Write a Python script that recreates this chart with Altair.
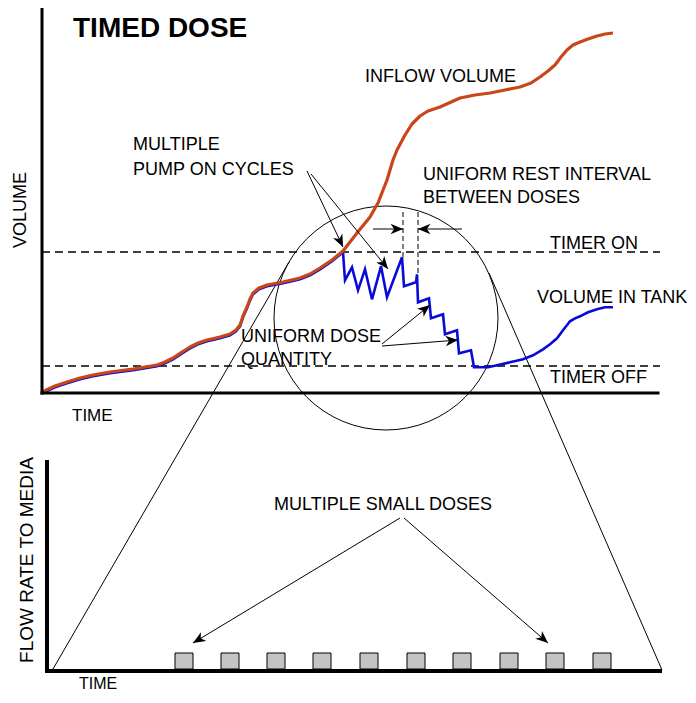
import altair as alt
import numpy as np
import pandas as pd

# Canvas in reference-picture pixel units (page margin 8px)
W, H = 680, 687
X_DOMAIN = [8, 688]
Y_DOMAIN = [8, 695]

# Inflow volume curve (x = time, y = volume, picture units)
inflow_x = [42, 55, 67, 80, 93, 110, 133, 157, 165, 173, 182, 190, 198, 207, 220, 230,
            236, 240, 243, 247, 250, 253, 259, 267, 283, 300, 310, 320, 332, 343, 357,
            370, 378, 387, 393, 397, 405, 412, 420, 428, 440, 460, 475, 490, 505, 520,
            531, 540, 548, 555, 561, 567, 573, 580, 588, 597, 605, 613]
inflow_y = [392, 386, 382, 378, 375, 372, 369, 365, 362, 358, 352, 347, 343, 340, 337, 334,
            330, 325, 316, 307, 299, 293, 288, 285, 282, 278, 274, 268, 260, 251, 233,
            217, 203, 180, 160, 150, 135, 124, 116, 111, 107, 98, 95, 93, 90, 87,
            83, 77, 71, 65, 57, 50, 45, 42, 39, 36, 34, 33]

# Volume in tank after the timer-on level is reached
tank_x = [343, 345, 352, 358, 365, 372, 381, 387, 402, 404, 416, 417, 418, 429, 431, 443,
          445, 457, 459, 471, 474, 488, 497, 510, 523, 533, 543, 550, 557, 563, 570, 575,
          580, 588, 597, 605, 613]
tank_y = [251, 279, 266, 289, 268, 298, 265, 296, 256, 285, 281, 273, 301, 297, 317, 313,
          333, 329, 352, 349, 366, 366, 364, 361, 358, 354, 348, 343, 337, 329, 320, 317,
          315, 311, 308, 306, 306]

# Dose pulses in lower panel
dose_on = [175, 221, 267, 313, 360, 407, 453, 500, 546, 593]
dose_off = [193, 239, 285, 331, 378, 425, 471, 518, 564, 611]
dose_top = 653
dose_base = 669

# Axes (x, y, x2, y2, width)
axes = pd.DataFrame({
    "x": [42, 42, 47, 47], "y": [8, 393, 462, 671],
    "x2": [42, 658, 47, 660], "y2": [393, 393, 669, 671],
    "w": [3, 3, 4, 4],
})

# Timer levels
timer_levels = pd.DataFrame({"x": [42, 42], "x2": [660, 660], "y": [252, 366], "y2": [252, 366]})

# Rest interval markers
rest_marks = pd.DataFrame({"x": [403, 418], "x2": [403, 418], "y": [212, 212], "y2": [257, 273]})

# Zoom lines (circle to lower panel)
zoom_lines = pd.DataFrame({"x": [289, 489], "y": [262, 273], "x2": [53, 662], "y2": [669, 670]})
circle = pd.DataFrame({"x": [386], "y": [318], "d": [224]})

# Annotation arrows: start -> tip
arrow_x0 = [307, 311, 373, 462, 382, 382, 400, 404]
arrow_y0 = [171, 174, 229, 229, 344, 346, 518, 518]
arrow_x1 = [343, 388, 403, 418, 430, 458, 193, 548]
arrow_y1 = [247, 269, 229, 229, 305, 340, 643, 643]

# Labels
label_text = ["TIME", "MULTIPLE", "PUMP ON CYCLES", "INFLOW VOLUME", "UNIFORM REST  INTERVAL",
              "BETWEEN DOSES", "TIMER ON", "VOLUME IN TANK", "UNIFORM DOSE", "QUANTITY",
              "TIMER OFF", "MULTIPLE SMALL  DOSES", "TIME"]
label_x = [72, 133, 133, 365, 423, 423, 550, 537, 241, 241, 550, 274, 79]
label_y = [421, 150, 175, 82, 180, 203, 249, 303, 342, 365, 383, 510, 689]
label_size = [17, 18, 18, 18, 18, 18, 18, 18, 18, 18, 18, 18, 16]

vlabel_text = ["VOLUME", "FLOW RATE TO MEDIA"]
vlabel_x = [21, 27]
vlabel_y = [210, 560]
vlabel_size = [18, 19]

FONT = "Liberation Sans"
ORANGE = "#c8461a"
BLUE = "#0a0ad8"

xs = alt.Scale(domain=X_DOMAIN, nice=False, zero=False)
ys = alt.Scale(domain=Y_DOMAIN, nice=False, zero=False, reverse=True)


def X(f="x"):
    return alt.X(f"{f}:Q", scale=xs, axis=None)


def Y(f="y"):
    return alt.Y(f"{f}:Q", scale=ys, axis=None)


inflow = pd.DataFrame({"x": inflow_x, "y": inflow_y, "i": range(len(inflow_x))})
prefix = inflow[inflow["x"] < tank_x[0]]
tank = pd.concat([prefix[["x", "y"]], pd.DataFrame({"x": tank_x, "y": tank_y})], ignore_index=True)
tank["i"] = range(len(tank))

blue_line = alt.Chart(tank).mark_line(color=BLUE, strokeWidth=2.6, yOffset=1.3, strokeJoin="miter").encode(
    x=X(), y=Y(), order="i:Q")
orange_line = alt.Chart(inflow).mark_line(color=ORANGE, strokeWidth=3.2, strokeJoin="round").encode(
    x=X(), y=Y(), order="i:Q")

axes_layer = alt.Chart(axes).mark_rule(color="black", strokeCap="square").encode(
    x=X(), y=Y(), x2="x2:Q", y2="y2:Q", strokeWidth=alt.StrokeWidth("w:Q", scale=None))

timer_layer = alt.Chart(timer_levels).mark_rule(color="black", strokeWidth=1.4, strokeDash=[8, 5]).encode(
    x=X(), y=Y(), x2="x2:Q", y2="y2:Q")

rest_layer = alt.Chart(rest_marks).mark_rule(color="black", strokeWidth=1, strokeDash=[5, 3]).encode(
    x=X(), y=Y(), x2="x2:Q", y2="y2:Q")

zoom_layer = alt.Chart(zoom_lines).mark_rule(color="black", strokeWidth=1).encode(
    x=X(), y=Y(), x2="x2:Q", y2="y2:Q")

circle_layer = alt.Chart(circle).mark_point(shape="circle", filled=False, color="black",
                                            strokeWidth=1, opacity=1).encode(
    x=X(), y=Y(), size=alt.Size("s:Q", scale=None)).transform_calculate(s="datum.d * datum.d")

doses = pd.DataFrame({"x": dose_on, "x2": dose_off, "y": [dose_top] * len(dose_on),
                      "y2": [dose_base] * len(dose_on)})
dose_layer = alt.Chart(doses).mark_rect(fill="#c4c4c4", stroke="black", strokeWidth=1).encode(
    x=X(), y=Y(), x2="x2:Q", y2="y2:Q")

arrows = pd.DataFrame({"x": arrow_x0, "y": arrow_y0, "x2": arrow_x1, "y2": arrow_y1})
arrows["ang"] = (np.degrees(np.arctan2(arrows["x2"] - arrows["x"], -(arrows["y2"] - arrows["y"]))) + 360) % 360
shaft_layer = alt.Chart(arrows).mark_rule(color="black", strokeWidth=1).encode(
    x=X(), y=Y(), x2="x2:Q", y2="y2:Q")
HEAD = "M0,0L-0.75,1.8L0,1.3L0.75,1.8Z"
head_layer = alt.Chart(arrows).mark_point(shape=HEAD, filled=True, color="black", opacity=1,
                                          size=190, strokeWidth=0).encode(
    x=X("x2"), y=Y("y2"), angle=alt.Angle("ang:Q", scale=None))

labels = pd.DataFrame({"x": label_x, "y": label_y, "t": label_text, "s": label_size})
label_layer = alt.Chart(labels).mark_text(font=FONT, align="left", baseline="alphabetic",
                                          color="black").encode(
    x=X(), y=Y(), text="t:N", size=alt.Size("s:Q", scale=None))

vlabels = pd.DataFrame({"x": vlabel_x, "y": vlabel_y, "t": vlabel_text, "s": vlabel_size})
vlabel_layer = alt.Chart(vlabels).mark_text(font=FONT, align="center", baseline="middle",
                                            angle=270, color="black").encode(
    x=X(), y=Y(), text="t:N", size=alt.Size("s:Q", scale=None))

title = pd.DataFrame({"x": [73], "y": [37], "t": ["TIMED DOSE"]})
title_layer = alt.Chart(title).mark_text(font=FONT, fontSize=28, fontWeight="bold", align="left",
                                         baseline="alphabetic", color="black").encode(
    x=X(), y=Y(), text="t:N")

chart = alt.layer(
    zoom_layer, circle_layer, timer_layer, rest_layer, blue_line, orange_line,
    shaft_layer, head_layer, dose_layer, axes_layer, label_layer, vlabel_layer, title_layer,
).properties(width=W, height=H, padding=0, autosize="none", background="white").configure_view(stroke=None)

chart.save("out.html", embed_options={"renderer": "svg", "actions": False})
